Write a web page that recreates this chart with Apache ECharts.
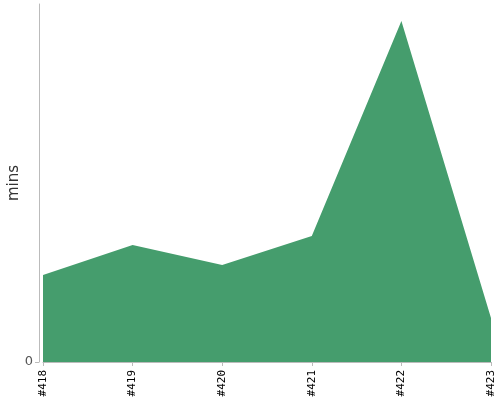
<!DOCTYPE html>
<html><head><meta charset="utf-8">
<script src="https://cdn.jsdelivr.net/npm/echarts@6/dist/echarts.min.js"></script>
<style>html,body{margin:0;padding:0;background:#fff}#c{width:500px;height:400px}</style>
</head><body><div id="c"></div>
<script>
const categories = ['#418', '#419', '#420', '#421', '#422', '#423'];
const minsValues = [8.7, 11.7, 9.7, 12.6, 34.1, 4.4];
const yMax = 35.8;
const yTickValues = [0];

const chart = echarts.init(document.getElementById('c'), null, {renderer: 'canvas'});
chart.setOption({
  animation: false,
  grid: {left: 43, right: 9, top: 4, bottom: 38, containLabel: false, outerBoundsMode: 'none'},
  xAxis: {
    type: 'category',
    data: categories,
    boundaryGap: false,
    offset: 3,
    axisLine: {lineStyle: {color: '#bbb'}},
    axisTick: {show: true, length: 4, alignWithLabel: true, lineStyle: {color: '#bbb'}},
    axisLabel: {rotate: 90, color: '#000', fontSize: 11, margin: 5, fontFamily: 'DejaVu Sans Mono', interval: 0}
  },
  yAxis: {
    type: 'value',
    min: 0,
    max: yMax,
    offset: 4,
    name: 'mins',
    nameLocation: 'middle',
    nameGap: 17,
    nameMoveOverlap: false,
    nameTextStyle: {color: '#333', fontSize: 15, fontFamily: 'DejaVu Sans'},
    axisLine: {show: true, lineStyle: {color: '#bbb'}},
    axisTick: {show: true, length: 4, customValues: yTickValues, lineStyle: {color: '#bbb'}},
    splitLine: {show: false},
    axisLabel: {color: '#555', fontSize: 13, fontFamily: 'DejaVu Sans', margin: 6,
      customValues: yTickValues}
  },
  series: [{
    type: 'line',
    data: minsValues,
    symbol: 'none',
    lineStyle: {width: 0},
    areaStyle: {color: '#459d6d', opacity: 1}
  }]
});
</script></body></html>
